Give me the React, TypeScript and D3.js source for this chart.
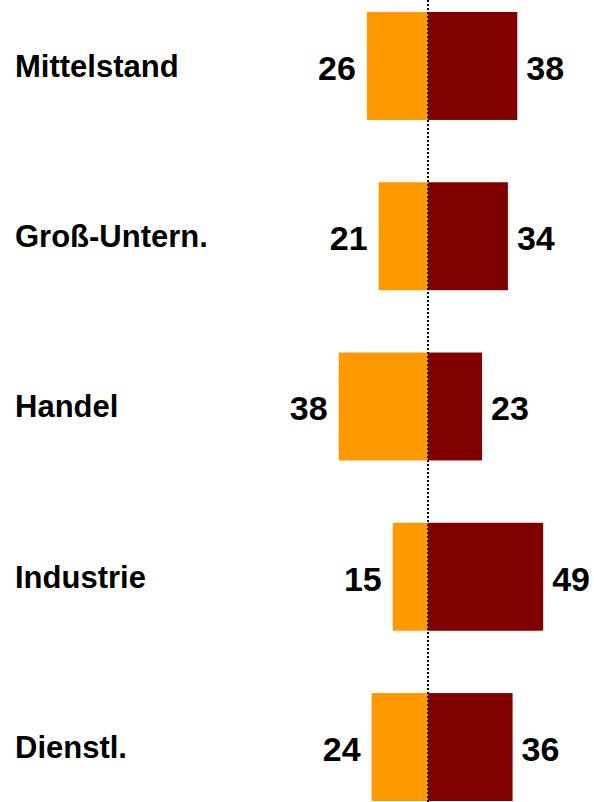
import React from "react";
import * as d3 from "d3";

const categories = ["Mittelstand", "Groß-Untern.", "Handel", "Industrie", "Dienstl."];
const leftValues = [26, 21, 38, 15, 24];
const rightValues = [38, 34, 23, 49, 36];

const W = 594;
const H = 802;
const centerX = 428;

const App = () => {
  const y = d3.scaleBand().domain(categories).range([12, 801]).paddingInner(0.366).paddingOuter(0);
  const x = d3.scaleLinear().domain([0, 50]).range([0, 117.5]);

  return (
    <svg width={W} height={H} style={{ position: "absolute", left: 0, top: 0 }}
      fontFamily="'Liberation Sans', Arial, sans-serif" fontWeight="bold">
      <rect width={W} height={H} fill="white" />
      {categories.map((c, i) => {
        const y0 = y(c) as number;
        const bh = y.bandwidth();
        const cy = y0 + bh / 2;
        return (
          <g key={c}>
            <text x={15} y={cy} dy="0.35em" fontSize={31} fill="black">{c}</text>
            <rect x={centerX - x(leftValues[i])} y={y0} width={x(leftValues[i])} height={bh} fill="#FF9900" />
            <rect x={centerX} y={y0} width={x(rightValues[i])} height={bh} fill="#800000" />
            <text x={centerX - x(leftValues[i]) - 11} y={cy + 2} dy="0.35em" textAnchor="end" fontSize={34} fill="black">
              {leftValues[i]}
            </text>
            <text x={centerX + x(rightValues[i]) + 9} y={cy + 2} dy="0.35em" textAnchor="start" fontSize={34} fill="black">
              {rightValues[i]}
            </text>
          </g>
        );
      })}
      <line x1={centerX} x2={centerX} y1={0} y2={H} stroke="black" strokeWidth={2} strokeDasharray="2,2" />
    </svg>
  );
};

export default App;
